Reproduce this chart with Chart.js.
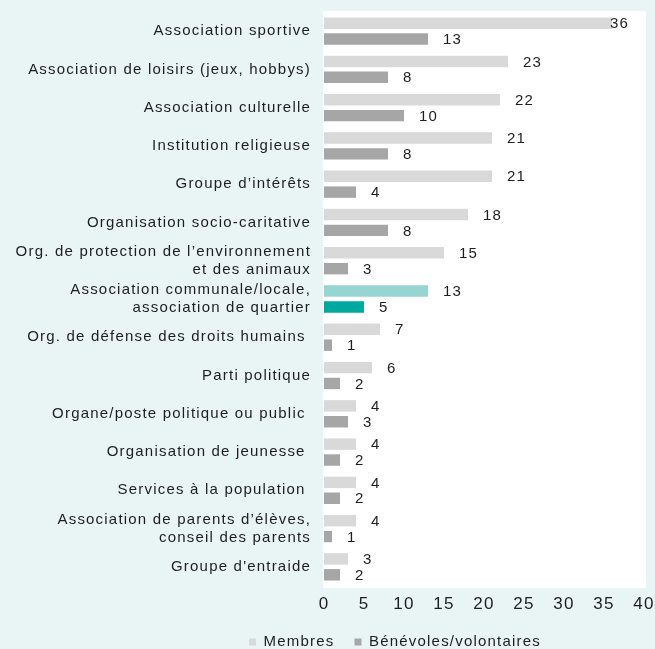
<!DOCTYPE html>
<html>
<head>
<meta charset="utf-8">
<script src="https://cdn.jsdelivr.net/npm/chart.js@4.4.0/dist/chart.umd.min.js"></script>
<style>
  html, body { margin: 0; padding: 0; background: #e9f5f5; }
  #wrap { width: 655px; height: 649px; position: relative; }
</style>
</head>
<body>
<div id="wrap"><canvas id="chart"></canvas></div>
<script>
// Categories, top to bottom
const categories = [
    'Association sportive',
    'Association de loisirs (jeux, hobbys)',
    'Association culturelle',
    'Institution religieuse',
    'Groupe d’intérêts',
    'Organisation socio-caritative',
    ['Org. de protection de l’environnement', 'et des animaux'],
    ['Association communale/locale,', 'association de quartier'],
    'Org. de défense des droits humains ',
    'Parti politique',
    'Organe/poste politique ou public ',
    'Organisation de jeunesse ',
    'Services à la population ',
    ['Association de parents d’élèves,', 'conseil des parents'],
    'Groupe d\'entraide'
];

const membres = [36, 23, 22, 21, 21, 18, 15, 13, 7, 6, 4, 4, 4, 4, 3];
const benevoles = [13, 8, 10, 8, 4, 8, 3, 5, 1, 2, 3, 2, 2, 1, 2];

const xTicks = [0, 5, 10, 15, 20, 25, 30, 35, 40];

const highlightIndex = 7; // the row shown in teal

const FONT = "'Liberation Sans', Arial, Helvetica, sans-serif";
const TEXT = '#1e1e1e';

Chart.defaults.font.family = FONT;
Chart.defaults.color = TEXT;

// canvas letter spacing to mimic the wider Helvetica look
const spacing = {
    id: 'spacing',
    beforeUpdate(chart) { chart.ctx.letterSpacing = '1.2px'; },
    beforeDraw(chart) { chart.ctx.letterSpacing = '1.2px'; }
};

// white plot area on the teal background
const plotBg = {
    id: 'plotBg',
    beforeDraw(chart) {
        const { ctx, chartArea: a } = chart;
        ctx.save();
        ctx.fillStyle = '#ffffff';
        ctx.fillRect(a.left - 1, a.top - 1, a.right - a.left + 3, a.bottom - a.top + 3);
        ctx.restore();
    }
};

// value labels right of each bar
const valueLabels = {
    id: 'valueLabels',
    afterDatasetsDraw(chart) {
        const { ctx, chartArea } = chart;
        ctx.save();
        ctx.font = '15px ' + FONT;
        ctx.fillStyle = TEXT;
        ctx.textAlign = 'left';
        ctx.textBaseline = 'middle';
        chart.data.datasets.forEach((ds, di) => {
            const meta = chart.getDatasetMeta(di);
            meta.data.forEach((bar, i) => {
                const txt = String(ds.data[i]);
                const w = ctx.measureText(txt).width;
                const x = Math.min(bar.x + 15, chartArea.right - 15 - w);
                ctx.fillText(txt, x, bar.y + 1);
            });
        });
        ctx.restore();
    }
};

function barColor(base, highlight) {
    return (c) => c.dataIndex === highlightIndex ? highlight : base;
}

new Chart(document.getElementById('chart'), {
    type: 'bar',
    data: {
        labels: categories,
        datasets: [
            {
                label: 'Membres',
                data: membres,
                backgroundColor: barColor('#d9d9d9', '#96d5d2'),
                borderWidth: 0,
                categoryPercentage: 0.83,
                barPercentage: 0.72
            },
            {
                label: 'Bénévoles/volontaires',
                data: benevoles,
                backgroundColor: barColor('#a6a6a6', '#00a99d'),
                borderWidth: 0,
                categoryPercentage: 0.83,
                barPercentage: 0.72
            }
        ]
    },
    options: {
        indexAxis: 'y',
        responsive: true,
        maintainAspectRatio: false,
        animation: false,
        layout: {
            padding: { left: 146, right: 11, top: 12, bottom: 0 }
        },
        scales: {
            x: {
                min: xTicks[0],
                max: xTicks[xTicks.length - 1],
                grid: { display: false, drawTicks: false },
                border: { display: false },
                ticks: {
                    stepSize: xTicks[1] - xTicks[0],
                    padding: 8,
                    maxRotation: 0,
                    autoSkip: false,
                    color: TEXT,
                    font: { size: 17 }
                },
                afterFit(scale) {
                    scale.height = 28.5;
                    scale.paddingLeft = 0;
                    scale.paddingRight = 0;
                }
            },
            y: {
                grid: { display: false, drawTicks: false },
                border: { display: false },
                ticks: {
                    padding: 13,
                    autoSkip: false,
                    color: TEXT,
                    font: { size: 15 }
                },
                afterFit(scale) {
                    scale.width = 178;
                    scale.paddingTop = 0;
                    scale.paddingBottom = 0;
                    // let the long labels run past the axis box
                    scale._computeLabelArea = () => undefined;
                }
            }
        },
        plugins: {
            legend: {
                position: 'bottom',
                maxHeight: 34.5,
                labels: {
                    boxWidth: 7,
                    boxHeight: 7,
                    padding: 20,
                    color: TEXT,
                    font: { size: 15 }
                }
            },
            tooltip: { enabled: false }
        }
    },
    plugins: [spacing, plotBg, valueLabels]
});
</script>
</body>
</html>
